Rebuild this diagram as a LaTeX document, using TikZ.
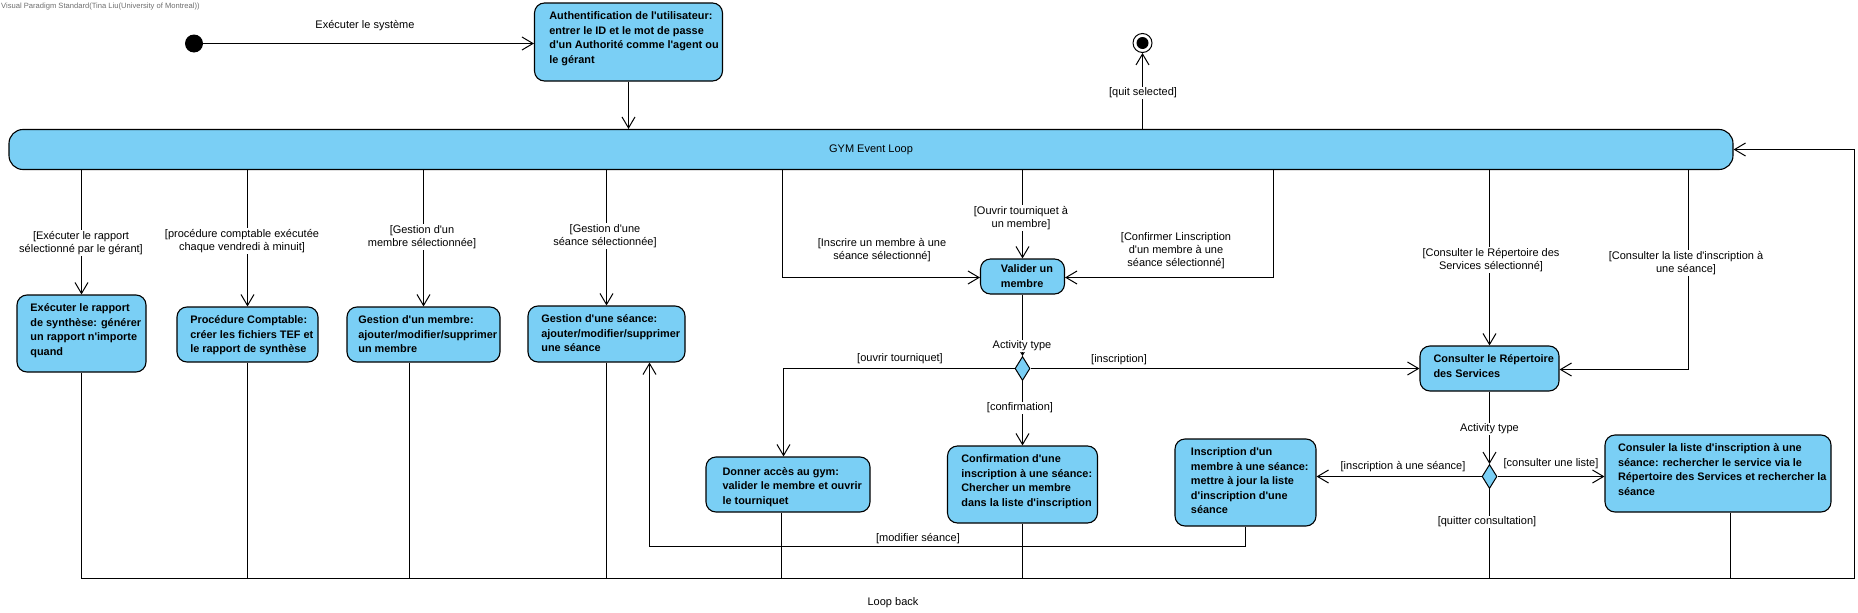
\documentclass[tikz,border=0pt]{standalone}
\usepackage{fontspec}
\setmainfont{Liberation Sans}[Ligatures=TeXOff]
\usetikzlibrary{arrows.meta,shapes.geometric,calc}
\definecolor{actfill}{RGB}{122,207,245}
\definecolor{hdrgray}{RGB}{110,110,110}
\newcommand{\firstrow}[1]{\hbox{\hspace{8.5pt}\rule{0pt}{16.5pt}#1}}
\newcommand{\rowtxt}[1]{\hbox{\hspace{8.5pt}#1}}
\newcommand{\acttext}[3]{\parbox[c][#2][t]{#1}{#3}}
\tikzset{
  act/.style={draw=black, line width=1.1pt, fill=actfill, rounded corners=10pt, inner sep=0pt,
    font=\fontsize{10.9}{14.5}\selectfont\bfseries},
  arr/.style={-{Straight Barb[length=11pt,width=13pt]}, line width=1pt},
  ln/.style={line width=1pt},
  lbl/.style={font=\fontsize{11}{13}\selectfont, align=center, inner sep=1pt},
  lblw/.style={lbl, fill=white},
  dec/.style={diamond, draw=black, line width=1pt, fill=actfill, minimum width=15pt, minimum height=24pt, inner sep=0pt},
}
\begin{document}
\begin{tikzpicture}[x=1pt,y=-1pt]
\useasboundingbox (0,0) rectangle (1858,613);
% header
\node[anchor=west, font=\fontsize{7.6}{9}\selectfont, text=hdrgray, inner sep=0pt] (hdr) at (1,7) {Visual Paradigm Standard(Tina Liu(University of Montreal))};
% start / end
\node[circle, fill=black, minimum size=18pt, inner sep=0pt] (init) at (194,43.5) {};
\node[circle, draw=black, line width=1pt, minimum size=19pt, inner sep=0pt] (fin) at (1142.5,43) {};
\node[circle, fill=black, minimum size=12pt, inner sep=0pt] (finin) at (1142.5,43) {};
% activities
\node[act, minimum width=188pt, minimum height=78pt] (auth) at (628.5,42) {\acttext{188pt}{78pt}{\hbox{\hspace{11pt}\rule{0pt}{16.5pt}Authentification de l'utilisateur:}\hbox{\hspace{11pt}entrer le ID et le mot de passe}\hbox{\hspace{11pt}d'un Authorité comme l'agent ou}\hbox{\hspace{11pt}le gérant}}};
\node[act, rounded corners=14pt, font=\fontsize{11}{13}\selectfont, minimum width=1724pt, minimum height=40pt] (loop) at (871,149.5) {GYM Event Loop};
\node[act, minimum width=129pt, minimum height=77pt] (b1) at (81.5,333.5) {\acttext{129pt}{77pt}{\firstrow{Exécuter le rapport}\rowtxt{de synthèse: générer}\rowtxt{un rapport n'importe}\rowtxt{quand}}};
\node[act, minimum width=141pt, minimum height=55pt] (b2) at (247.5,334.5) {\acttext{141pt}{55pt}{\firstrow{Procédure Comptable:}\rowtxt{créer les fichiers TEF et}\rowtxt{le rapport de synthèse}}};
\node[act, minimum width=153pt, minimum height=55pt] (b3) at (423.5,334.5) {\acttext{153pt}{55pt}{\firstrow{Gestion d'un membre:}\rowtxt{ajouter/modifier/supprimer}\rowtxt{un membre}}};
\node[act, minimum width=157pt, minimum height=56pt] (b4) at (606.5,334) {\acttext{157pt}{56pt}{\firstrow{Gestion d'une séance:}\rowtxt{ajouter/modifier/supprimer}\rowtxt{une séance}}};
\node[act, minimum width=84pt, minimum height=35pt] (valider) at (1022.5,276.5) {\acttext{84pt}{35pt}{\hbox{\hspace{9pt}\rule{0pt}{13.5pt}Valider un}\hbox{\hspace{9pt}membre}}};
\node[act, minimum width=164pt, minimum height=55pt] (donner) at (788,484.5) {\acttext{164pt}{55pt}{\hbox{\hspace{8.5pt}\rule{0pt}{18pt}Donner accès au gym:}\rowtxt{valider le membre et ouvrir}\rowtxt{le tourniquet}}};
\node[act, minimum width=150pt, minimum height=77pt] (confirm) at (1022.5,484.5) {\acttext{150pt}{77pt}{\firstrow{Confirmation d'une}\rowtxt{inscription à une séance:}\rowtxt{Chercher un membre}\rowtxt{dans la liste d'inscription}}};
\node[act, minimum width=141pt, minimum height=87pt] (inscr) at (1245.5,482.5) {\acttext{141pt}{87pt}{\firstrow{Inscription d'un}\rowtxt{membre à une séance:}\rowtxt{mettre à jour la liste}\rowtxt{d'inscription d'une}\rowtxt{séance}}};
\node[act, minimum width=139pt, minimum height=45pt] (consrep) at (1489.5,368.5) {\acttext{139pt}{45pt}{\firstrow{Consulter le Répertoire}\rowtxt{des Services}}};
\node[act, minimum width=226pt, minimum height=77pt] (conslist) at (1718,473.5) {\acttext{226pt}{77pt}{\firstrow{Consuler la liste d'inscription à une}\rowtxt{séance: rechercher le service via le}\rowtxt{Répertoire des Services et rechercher la}\rowtxt{séance}}};
% decisions
\node[dec] (d1) at (1022.5,368.5) {};
\node[dec] (d2) at (1489.5,476.5) {};
% helper coordinates
\coordinate (vl) at (782.5,277.5);
\coordinate (vr) at (1273.5,277.5);
\coordinate (dl) at (783.5,368.5);
\coordinate (cr) at (1688.5,369.5);
\coordinate (lb) at (81.5,578.5);
\coordinate (rb) at (1854.5,578.5);
\coordinate (ms) at (649.5,546.5);
% connectors
\draw[arr] (init) -- (auth.west |- init);
\draw[arr] (auth.south) -- (auth.south |- loop.north);
\draw[arr] (loop.north -| fin) -- (fin.south);
\draw[arr] (loop.south -| b1.north) -- (b1.north);
\draw[arr] (loop.south -| b2.north) -- (b2.north);
\draw[arr] (loop.south -| b3.north) -- (b3.north);
\draw[arr] (loop.south -| b4.north) -- (b4.north);
\draw[arr] (loop.south -| vl) -- (vl) -- (valider.west |- vl);
\draw[arr] (loop.south -| valider.north) -- (valider.north);
\draw[arr] (loop.south -| vr) -- (vr) -- (valider.east |- vr);
\draw[arr] (valider.south) -- (d1.north);
\draw[arr] (d1.west) -- (dl) -- (donner.north -| dl);
\draw[arr] (d1.south) -- (confirm.north);
\draw[arr] (d1.east) -- (consrep.west |- d1);
\draw[arr] (loop.south -| consrep.north) -- (consrep.north);
\draw[arr] (loop.south -| cr) -- (cr) -- (consrep.east |- cr);
\draw[arr] (consrep.south) -- (d2.north);
\draw[arr] (d2.west) -- (inscr.east |- d2);
\draw[arr] (d2.east) -- (conslist.west |- d2);
\draw[arr] (inscr.south) |- (ms) -- (b4.south -| ms);
\draw[arr] (b1.south) -- (lb) -- (rb) |- (loop.east);
\draw[ln] (b2.south) -- (b2.south |- lb);
\draw[ln] ([xshift=-14pt]b3.south) -- ([xshift=-14pt]b3.south |- lb);
\draw[ln] (b4.south) -- (b4.south |- lb);
\draw[ln] ([xshift=-6.5pt]donner.south) -- ([xshift=-6.5pt]donner.south |- lb);
\draw[ln] (confirm.south) -- (confirm.south |- lb);
\draw[ln] (d2.south) -- (d2.south |- lb);
\draw[ln] ([xshift=12.5pt]conslist.south) -- ([xshift=12.5pt]conslist.south |- lb);
% labels
\node[lbl] (lexe) at (365,26) {Exécuter le système};
\node[lblw] (lquit) at (1143,93) {[quit selected]};
\node[lblw] (lb1) at (81,243) {[Exécuter le rapport\\sélectionné par le gérant]};
\node[lblw] (lb2) at (242,241) {[procédure comptable exécutée\\chaque vendredi à minuit]};
\node[lblw] (lb3) at (422,237) {[Gestion d'un\\membre sélectionnée]};
\node[lblw] (lb4) at (605,236) {[Gestion d'une\\séance sélectionnée]};
\node[lblw] (lvt) at (1021,218) {[Ouvrir tourniquet à\\un membre]};
\node[lbl] (lvl) at (882,250) {[Inscrire un membre à une\\séance sélectionné]};
\node[lbl] (lvr) at (1176,251) {[Confirmer Linscription\\d'un membre à une\\séance sélectionné]};
\node[lblw, inner sep=0.5pt] (lat1) at (1022,346) {Activity type};
\node[lbl] (lot) at (900,359) {[ouvrir tourniquet]};
\node[lbl] (lins) at (1119,360) {[inscription]};
\node[lblw] (lconf) at (1020,408) {[confirmation]};
\node[lblw] (lcr) at (1491,260) {[Consulter le Répertoire des\\Services sélectionné]};
\node[lblw] (lcl) at (1686,263) {[Consulter la liste d'inscription à\\une séance]};
\node[lblw, inner sep=0.5pt] (lat2) at (1489.5,429) {Activity type};
\node[lbl] (lis) at (1403,467) {[inscription à une séance]};
\node[lbl] (lcu) at (1551,464) {[consulter une liste]};
\node[lblw] (lqc) at (1487,522) {[quitter consultation]};
\node[lbl] (lmod) at (918,539) {[modifier séance]};
\node[lbl] (lback) at (893,603) {Loop back};
\end{tikzpicture}
\end{document}
